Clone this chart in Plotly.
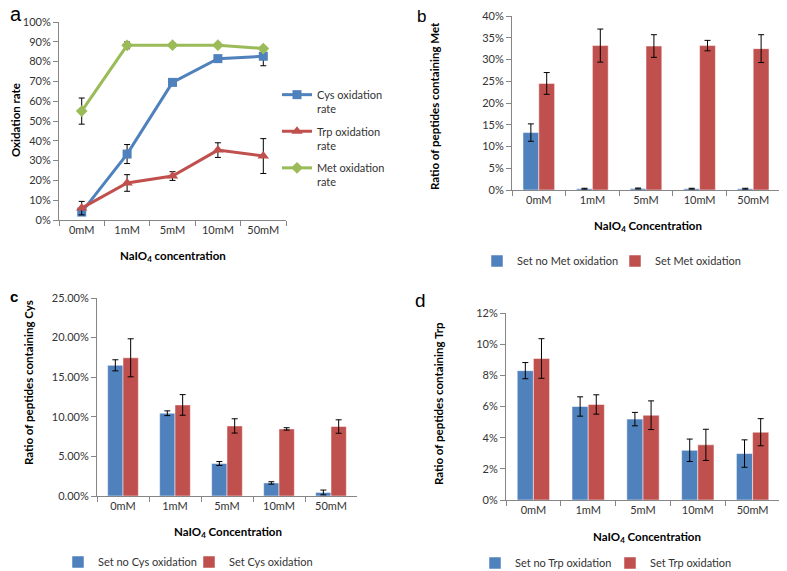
import plotly.graph_objects as go

# page body has an 8px margin, so the figure is drawn from (8, 8)
OFF = 8
W, H = 787 - OFF, 571 - OFF
FONT = "Lato"
BLUE = "#4F81BD"
RED = "#C0504D"
GREEN = "#9BBB59"
AXIS = "#868686"
TXT = "#333333"

conc = ["0mM", "1mM", "5mM", "10mM", "50mM"]

# panel a: oxidation rate (%)
cys_rate = [4.0, 33.3, 69.5, 81.5, 82.7]
cys_rate_err = [1.0, 4.8, 1.2, 1.0, 4.8]
trp_rate = [6.0, 18.7, 22.2, 35.3, 32.3]
trp_rate_err = [3.4, 4.2, 2.2, 3.7, 8.8]
met_rate = [55.0, 88.2, 88.3, 88.3, 86.6]
met_rate_err = [6.6, 1.7, 0.9, 0.6, 0.9]

# panel b: peptides containing Met (%)
no_met = [13.2, 0.3, 0.35, 0.3, 0.3]
no_met_err = [2.0, 0.1, 0.1, 0.1, 0.1]
met_ox = [24.5, 33.2, 33.1, 33.2, 32.5]
met_ox_err = [2.5, 3.8, 2.6, 1.2, 3.2]

# panel c: peptides containing Cys (%)
no_cys = [16.5, 10.45, 4.1, 1.65, 0.45]
no_cys_err = [0.7, 0.3, 0.25, 0.15, 0.3]
cys_ox = [17.45, 11.5, 8.85, 8.47, 8.77]
cys_ox_err = [2.4, 1.3, 0.9, 0.15, 0.85]

# panel d: peptides containing Trp (%)
no_trp = [8.3, 6.0, 5.19, 3.19, 2.98]
no_trp_err = [0.52, 0.62, 0.43, 0.72, 0.88]
trp_ox = [9.08, 6.13, 5.44, 3.54, 4.35]
trp_ox_err = [1.27, 0.62, 0.92, 1.0, 0.87]


# screen pixel -> paper fraction
def px(x):
    return (x - OFF) / W


def py(y):
    return 1 - (y - OFF) / H


def xd(a, b):
    return [px(a), px(b)]


def yd(top, bottom):
    return [py(bottom), py(top)]


def err(vals):
    return dict(type="data", array=vals, color="black", thickness=1, width=3)


fig = go.Figure()

# --- a: line chart
for name, vals, errs, col, sym, size in [
    ("Cys oxidation<br>rate", cys_rate, cys_rate_err, BLUE, "square", 9),
    ("Trp oxidation<br>rate", trp_rate, trp_rate_err, RED, "triangle-up", 10),
    ("Met oxidation<br>rate", met_rate, met_rate_err, GREEN, "diamond", 9),
]:
    fig.add_trace(go.Scatter(
        x=conc, y=vals, error_y=err(errs), name=name, mode="lines+markers",
        line=dict(color=col, width=3), marker=dict(color=col, symbol=sym, size=size),
        xaxis="x", yaxis="y", legend="legend", legendgroup=name
    ))

# --- b, c, d: grouped bars
bar_sets = [
    ("x2", "y2", "legend2", "Set no Met oxidation", no_met, no_met_err, "Set Met oxidation", met_ox, met_ox_err),
    ("x3", "y3", "legend3", "Set no Cys oxidation", no_cys, no_cys_err, "Set Cys oxidation", cys_ox, cys_ox_err),
    ("x4", "y4", "legend4", "Set no Trp oxidation", no_trp, no_trp_err, "Set Trp oxidation", trp_ox, trp_ox_err),
]
for xa, ya, lg, n1, v1, e1, n2, v2, e2 in bar_sets:
    fig.add_trace(go.Bar(x=conc, y=v1, error_y=err(e1), name=n1, marker_color=BLUE,
                         marker_line=dict(color="white", width=0.5),
                         xaxis=xa, yaxis=ya, legend=lg, offsetgroup="1"))
    fig.add_trace(go.Bar(x=conc, y=v2, error_y=err(e2), name=n2, marker_color=RED,
                         marker_line=dict(color="white", width=0.5),
                         xaxis=xa, yaxis=ya, legend=lg, offsetgroup="2"))

xbase = dict(type="category", showline=True, linecolor=AXIS, linewidth=1,
             ticks="outside", tickcolor=AXIS, ticklen=5, tickson="boundaries",
             showgrid=False, zeroline=False, range=[-0.5, 4.5], tickangle=0,
             tickfont=dict(size=11, color=TXT, family=FONT))
ybase = dict(showline=True, linecolor=AXIS, linewidth=1, ticks="outside",
             tickcolor=AXIS, ticklen=5, showgrid=False, zeroline=False,
             ticksuffix="%", tickfont=dict(size=11, color=TXT, family=FONT))
leg_h = dict(orientation="h", xanchor="left", yanchor="middle",
             font=dict(size=11, color=TXT), bgcolor="rgba(0,0,0,0)")

fig.update_layout(
    width=W, height=H, margin=dict(l=0, r=0, t=0, b=0, autoexpand=False),
    paper_bgcolor="white", plot_bgcolor="white",
    font=dict(family=FONT, size=11, color=TXT),
    barmode="group", bargap=0.41, bargroupgap=0,
    xaxis=dict(xbase, domain=xd(59, 286), anchor="y"),
    yaxis=dict(ybase, domain=yd(22, 220), anchor="x", range=[0, 100], dtick=10),
    xaxis2=dict(xbase, domain=xd(512, 780), anchor="y2"),
    yaxis2=dict(ybase, domain=yd(16, 190), anchor="x2", range=[0, 40], dtick=5),
    xaxis3=dict(xbase, domain=xd(97, 357), anchor="y3"),
    yaxis3=dict(ybase, domain=yd(298, 496), anchor="x3", range=[0, 25], dtick=5, tickformat=".2f"),
    xaxis4=dict(xbase, domain=xd(506, 780), anchor="y4"),
    yaxis4=dict(ybase, domain=yd(313, 500), anchor="x4", range=[0, 12], dtick=2),
    legend=dict(x=px(277), y=py(81), xanchor="left", yanchor="top",
                orientation="v", valign="top", traceorder="grouped", tracegroupgap=5,
                font=dict(size=11, color=TXT), bgcolor="rgba(0,0,0,0)"),
    legend2=dict(leg_h, x=px(477), y=py(261), entrywidth=93),
    legend3=dict(leg_h, x=px(58), y=py(562), entrywidth=86),
    legend4=dict(leg_h, x=px(475), y=py(563), entrywidth=90),
)

ann = []
# panel letters
for t, x, y, xa, sz, bold in [("a", 8, 14, "left", 20, False), ("b", 421, 16, "center", 17, False),
                              ("c", 8, 296, "left", 15, True), ("d", 420, 300, "center", 19, False)]:
    ann.append(dict(text=f"<b>{t}</b>" if bold else t, x=px(x), y=py(y), xref="paper", yref="paper",
                    xanchor=xa, yanchor="middle", showarrow=False,
                    font=dict(size=sz, color="black", family="Liberation Sans")))
# x titles
for t, x, y in [("concentration", 173, 256), ("Concentration", 648, 226),
                ("Concentration", 228, 532), ("Concentration", 647, 537)]:
    ann.append(dict(text=f"<b>NaIO<sub>4</sub> {t}</b>", x=px(x), y=py(y),
                    xref="paper", yref="paper", xanchor="center", yanchor="middle",
                    showarrow=False, font=dict(size=11.5, color="black", family=FONT)))
# y titles
for t, x, y in [("Oxidation rate", 15, 120), ("Ratio of peptides containing Met", 435, 106),
                ("Ratio of peptides containing Cys", 28, 383), ("Ratio of peptides containing Trp", 438, 403)]:
    ann.append(dict(text=f"<b>{t}</b>", x=px(x), y=py(y), xref="paper", yref="paper",
                    xanchor="center", yanchor="middle", showarrow=False, textangle=-90,
                    font=dict(size=11.5, color="black", family=FONT)))
fig.update_layout(annotations=ann)

fig.write_html("out.html")
